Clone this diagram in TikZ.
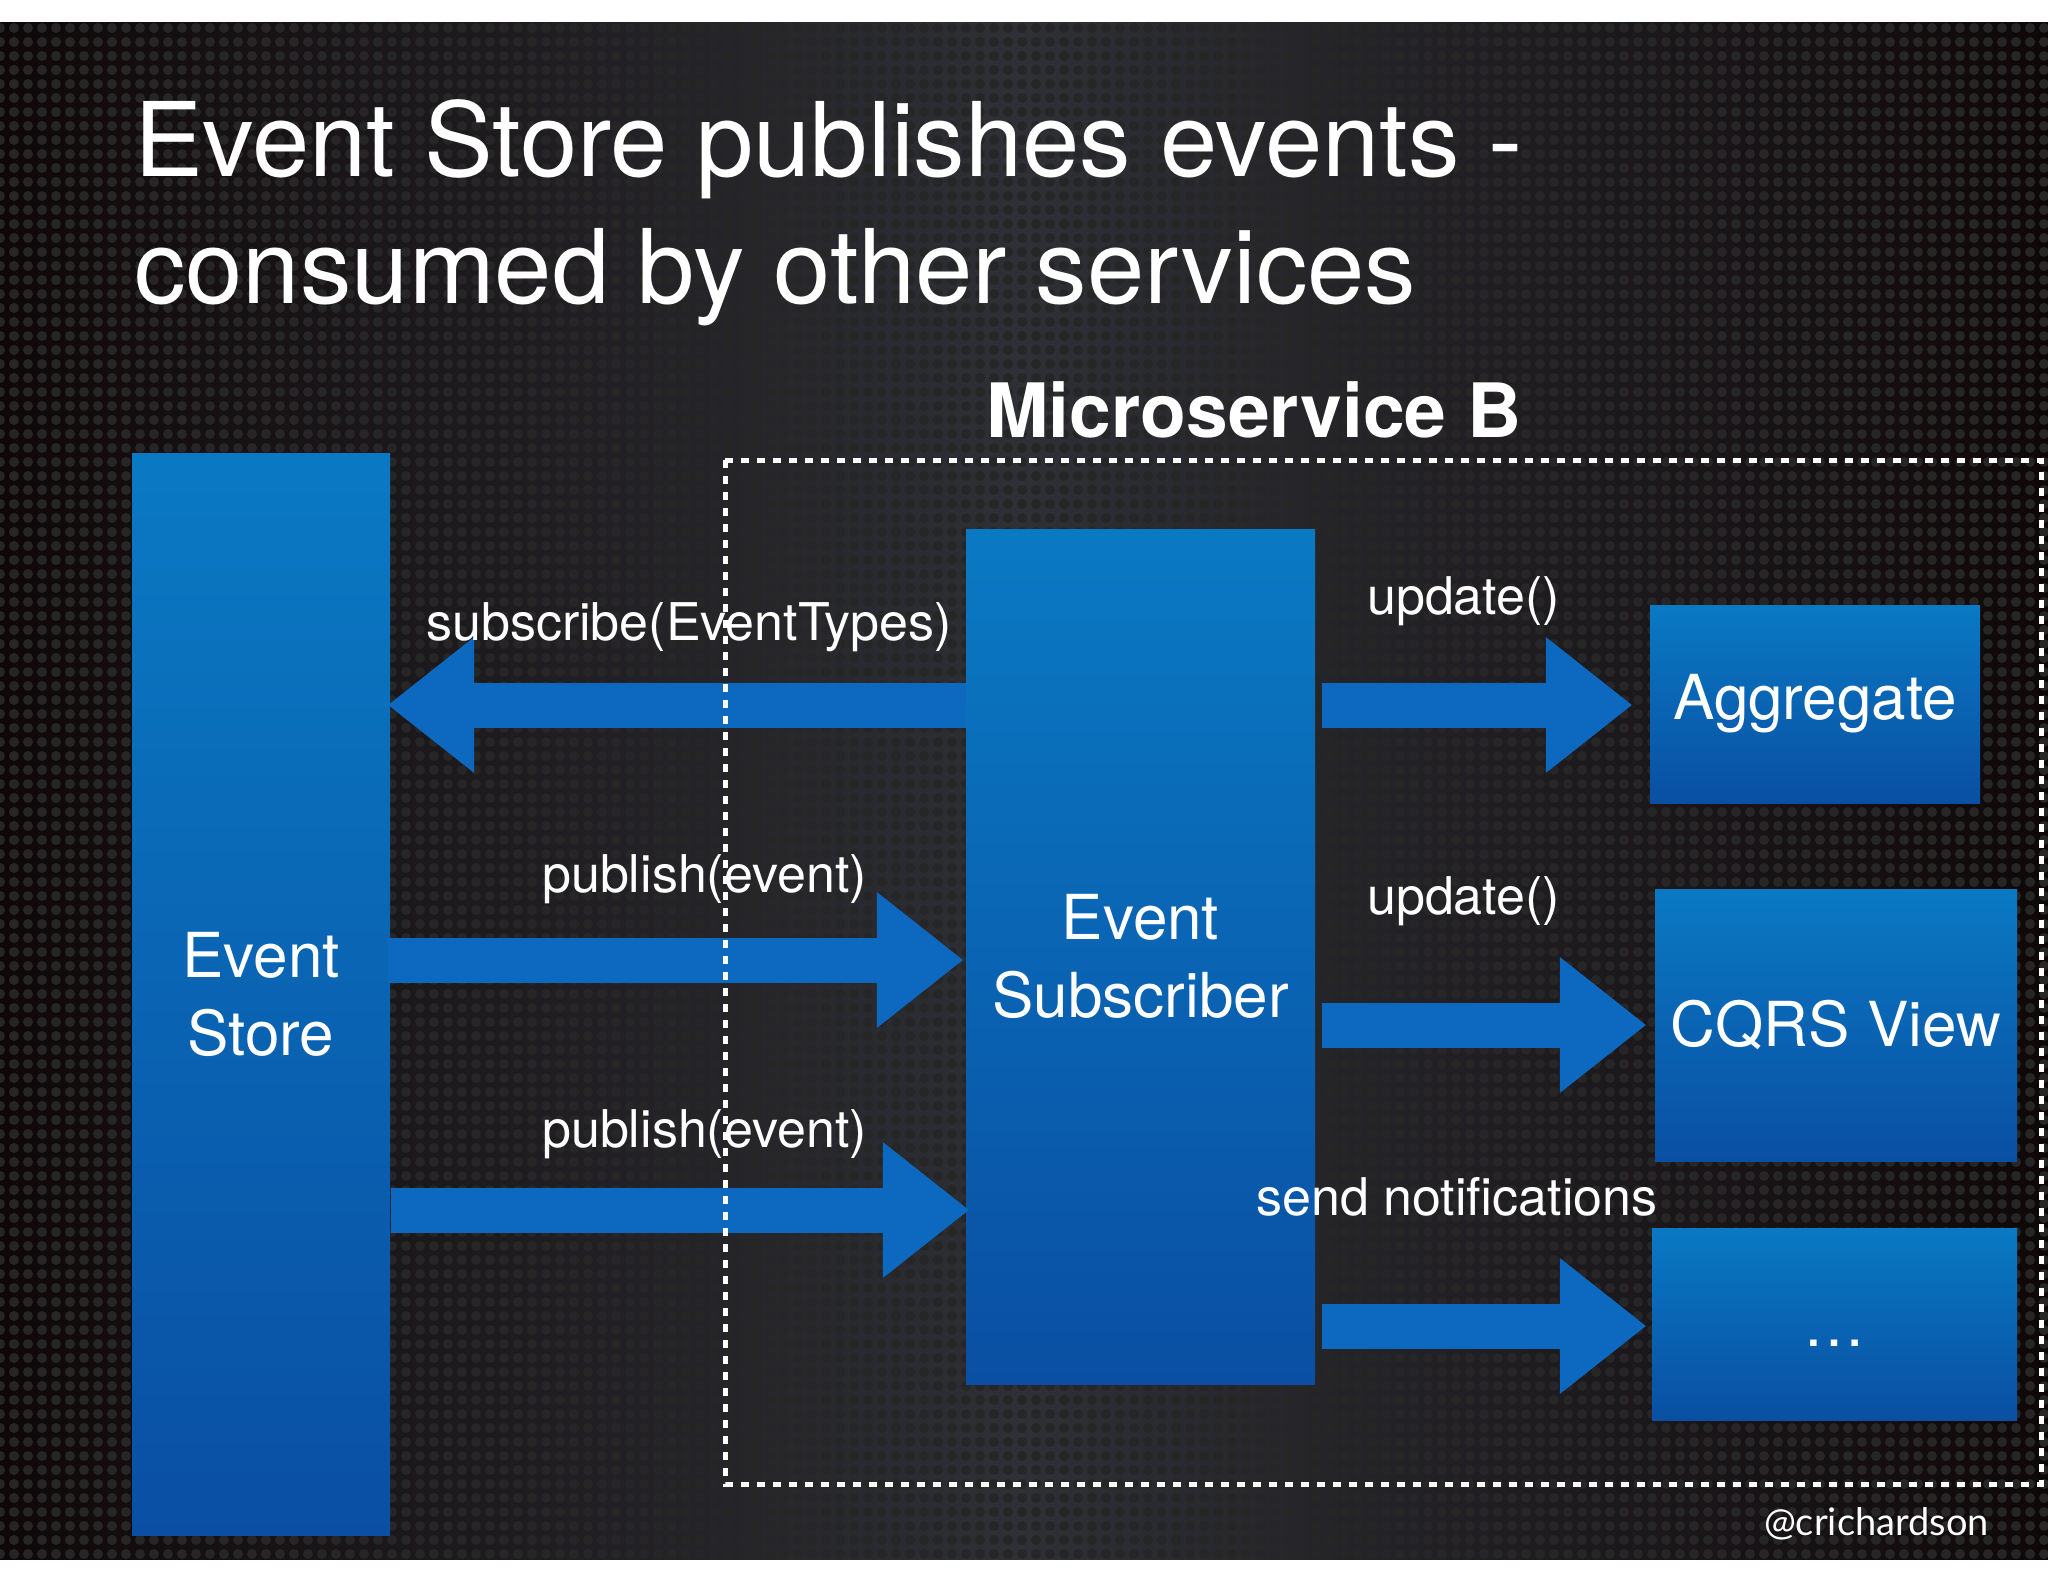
\documentclass[tikz,border=0pt]{standalone}
\usepackage{fontspec}
\setmainfont{TeX Gyre Heros}
\newfontfamily\handlefont{Lato}
\usetikzlibrary{arrows.meta,patterns.meta}
\definecolor{bgdark}{HTML}{0F0809}
\definecolor{bgmid}{HTML}{2E3036}
\definecolor{boxtop}{HTML}{0A79C3}
\definecolor{boxbot}{HTML}{0A4FA3}
\definecolor{arrowblue}{HTML}{0D69BF}
\begin{document}
\begin{tikzpicture}[x=1pt, y=-1pt,
  box/.style={inner sep=0pt, top color=boxtop, bottom color=boxbot, text=white, align=center, font=\fontsize{62pt}{78pt}\selectfont},
  blockarrow/.style={arrowblue, line width=45pt, -{Triangle[length=86pt, width=136pt, line width=0pt]}},
  lbl/.style={text=white, anchor=base west, inner sep=0pt, font=\fontsize{52pt}{60pt}\selectfont},
  titletext/.style={text=white, anchor=base west, inner sep=0pt, font=\fontsize{103pt}{127pt}\selectfont}]
  \useasboundingbox (0,0) rectangle (2048,1582);
  % slide background
  \fill[white] (0,0) rectangle (2048,1582);
  \shade[left color=bgdark, right color=bgdark, middle color=bgmid] (0,22) rectangle (2048,1559);
  \fill[pattern={Dots[radius=5pt, distance=14pt]}, pattern color=black!85] (0,22) rectangle (2048,1559);
  \node[titletext] (title1) at (134,176) {Event Store publishes events -};
  \node[titletext] (title2) at (134,303) {consumed by other services};
  % boxes
  \node[box, minimum width=258pt, minimum height=1082pt] (store) at (261,994) {Event\\Store};
  \node[box, minimum width=349pt, minimum height=855pt] (sub) at (1140.5,956.5) {Event\\Subscriber};
  \node[box, minimum width=330pt, minimum height=198pt] (agg) at (1815,704) {Aggregate};
  \node[box, minimum width=362pt, minimum height=272pt] (view) at (1836,1025) {CQRS View};
  \node[box, minimum width=365pt, minimum height=192pt, text height=44pt] (more) at (1834.5,1324) {\dots};
  % arrow rows
  \coordinate (row1) at (0,705);
  \coordinate (row2) at (0,960);
  \coordinate (row3) at (0,1210);
  \coordinate (row4) at (0,1025);
  \coordinate (row5) at (0,1326);
  \draw[blockarrow, shorten >=-2pt] (sub.west |- row1) -- (store.east |- row1);
  \draw[blockarrow, shorten <=-2pt, shorten >=3pt] (store.east |- row2) -- (sub.west |- row2);
  \draw[blockarrow, shorten <=1pt, shorten >=-3pt] (store.east |- row3) -- (sub.west |- row3);
  \draw[blockarrow, shorten <=7pt, shorten >=18pt] (sub.east |- row1) -- (agg.west |- row1);
  \draw[blockarrow, shorten <=7pt, shorten >=9pt] (sub.east |- row4) -- (view.west |- row4);
  \draw[blockarrow, shorten <=7pt, shorten >=6pt] (sub.east |- row5) -- (more.west |- row5);
  % microservice frame
  \draw[white, line width=5pt, dash pattern=on 8pt off 8pt] (725,460) rectangle (2041,1484);
  \node[anchor=base, inner sep=0pt, text=white, font=\fontsize{75pt}{90pt}\selectfont\bfseries] (msb) at (1254,437) {Microservice B};
  % labels
  \node[lbl] (subscribe) at (426,640) {subscribe(EventTypes)};
  \node[lbl] (publish1) at (542,892) {publish(event)};
  \node[lbl] (publish2) at (542,1147) {publish(event)};
  \node[lbl] (update1) at (1367,614) {update()};
  \node[lbl] (update2) at (1367,914) {update()};
  \node[lbl] (notify) at (1256,1215) {send notifications};
  \node[anchor=base east, inner sep=0pt, text=white, font=\handlefont\fontsize{38pt}{44pt}\selectfont] (handle) at (1989,1535) {@crichardson};
\end{tikzpicture}
\end{document}
